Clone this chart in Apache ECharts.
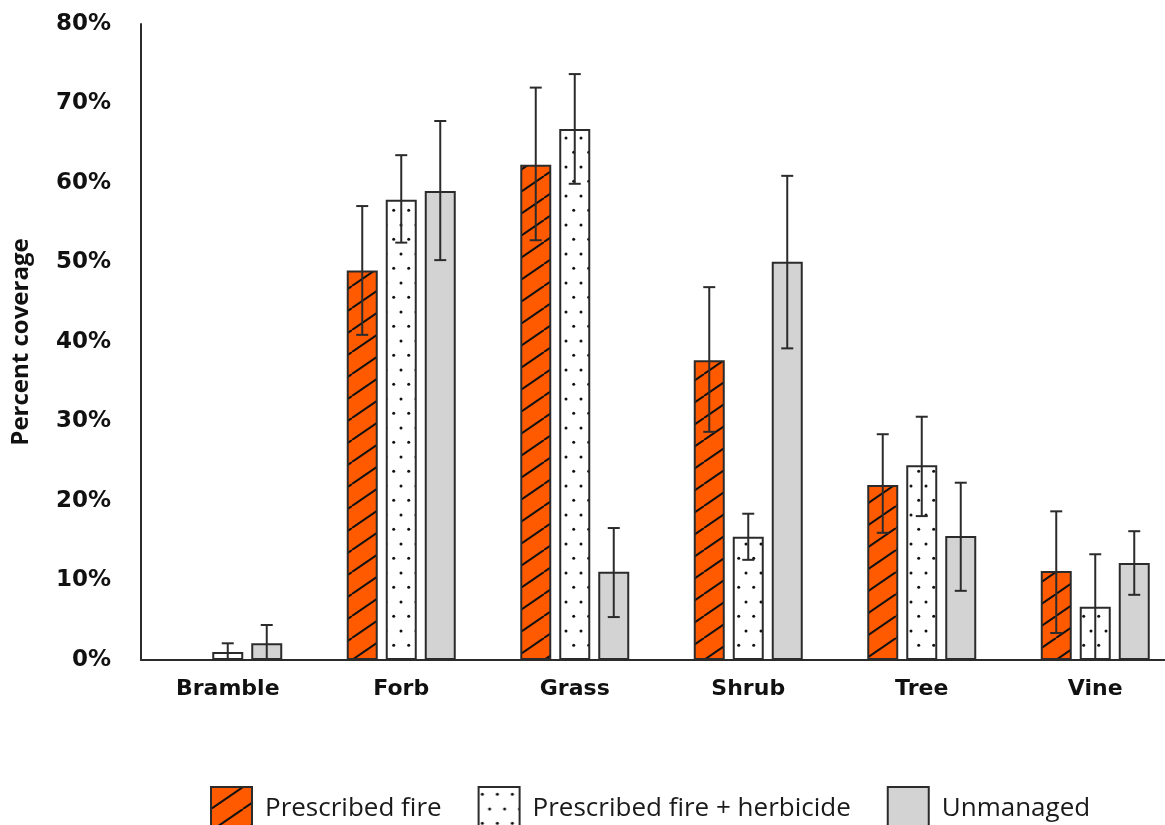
<!DOCTYPE html>
<html>
<head>
<meta charset="utf-8">
<script src="https://cdn.jsdelivr.net/npm/echarts@6/dist/echarts.min.js"></script>
<style>
html,body{margin:0;padding:0;background:#fff;}
#chart{width:1165px;height:825px;}
</style>
</head>
<body>
<div id="chart"></div>
<script>
// ---- data ----
const categories = ['Bramble', 'Forb', 'Grass', 'Shrub', 'Tree', 'Vine'];
const seriesNames = ['Prescribed fire', 'Prescribed fire + herbicide', 'Unmanaged'];
const fireValues = [null, 49.0, 62.3, 37.7, 22.0, 11.2];
const fireLow    = [null, 40.9, 52.8, 28.7, 16.0, 3.4];
const fireHigh   = [null, 57.1, 72.0, 46.9, 28.4, 18.7];
const herbValues = [1.0, 57.9, 66.8, 15.5, 24.5, 6.7];
const herbLow    = [0.0, 52.5, 59.9, 12.6, 18.1, 0.0];
const herbHigh   = [2.1, 63.5, 73.7, 18.4, 30.6, 13.3];
const unmValues  = [2.1, 59.0, 11.1, 50.1, 15.6, 12.2];
const unmLow     = [0.0, 50.3, 5.4, 39.2, 8.7, 8.2];
const unmHigh    = [4.4, 67.8, 16.6, 60.9, 22.3, 16.2];
const yTicks = [0, 10, 20, 30, 40, 50, 60, 70, 80];

// ---- patterns ----
function hatchPattern() {
  const W = 32, H = 22;
  const c = document.createElement('canvas');
  c.width = W; c.height = H;
  const ctx = c.getContext('2d');
  ctx.fillStyle = '#ff5a00';
  ctx.fillRect(0, 0, W, H);
  ctx.strokeStyle = '#111';
  ctx.lineWidth = 2;
  for (const dx of [-W, 0, W]) {
    ctx.beginPath();
    ctx.moveTo(dx, H);
    ctx.lineTo(dx + W, 0);
    ctx.stroke();
  }
  return c;
}
function dotPattern() {
  const c = document.createElement('canvas');
  c.width = 15; c.height = 29;
  const ctx = c.getContext('2d');
  ctx.fillStyle = '#ffffff';
  ctx.fillRect(0, 0, 15, 29);
  ctx.fillStyle = '#111';
  [[3.7, 7.3], [11.0, 21.9]].forEach(function (p) {
    ctx.beginPath();
    ctx.arc(p[0], p[1], 1.5, 0, Math.PI * 2);
    ctx.fill();
  });
  return c;
}

const fills = [
  { image: hatchPattern(), repeat: 'repeat' },
  { image: dotPattern(), repeat: 'repeat' },
  '#d3d3d4'
];
const barW = 31, barStep = 39;
const lineColor = '#2b2b2b';
const boldFont = 'DejaVu Sans';

const values = [fireValues, herbValues, unmValues];
const lows = [fireLow, herbLow, unmLow];
const highs = [fireHigh, herbHigh, unmHigh];

const series = [];
values.forEach(function (vals, i) {
  series.push({
    name: seriesNames[i],
    type: 'bar',
    data: vals,
    barWidth: barW,
    barGap: ((barStep - barW) / barW * 100).toFixed(1) + '%',
    itemStyle: { color: fills[i], borderColor: lineColor, borderWidth: 2 },
    emphasis: { disabled: true },
    z: 2
  });
});
values.forEach(function (vals, i) {
  const data = [];
  categories.forEach(function (c, k) {
    if (lows[i][k] != null && highs[i][k] != null) data.push([k, lows[i][k], highs[i][k]]);
  });
  const offset = (i - 1) * barStep;
  series.push({
    type: 'custom',
    name: seriesNames[i] + ' err',
    data: data,
    z: 5,
    silent: true,
    renderItem: function (params, api) {
      const k = api.value(0);
      const lo = api.coord([k, api.value(1)]);
      const hi = api.coord([k, api.value(2)]);
      const x = lo[0] + offset;
      const cap = 6;
      const st = { stroke: lineColor, lineWidth: 2 };
      return {
        type: 'group',
        children: [
          { type: 'line', shape: { x1: x, y1: lo[1], x2: x, y2: hi[1] }, style: st },
          { type: 'line', shape: { x1: x - cap, y1: hi[1], x2: x + cap, y2: hi[1] }, style: st },
          { type: 'line', shape: { x1: x - cap, y1: lo[1], x2: x + cap, y2: lo[1] }, style: st }
        ]
      };
    },
    encode: { x: 0, y: [1, 2] }
  });
});

const chart = echarts.init(document.getElementById('chart'), null, { renderer: 'canvas' });
chart.setOption({
  animation: false,
  backgroundColor: '#ffffff',
  textStyle: { fontFamily: 'Open Sans' },
  grid: { left: 141, top: 24, width: 1041, height: 636, outerBoundsMode: 'none', containLabel: false },
  legend: {
    data: seriesNames,
    left: 205,
    top: 781,
    itemWidth: 41,
    itemHeight: 44,
    itemGap: 36,
    icon: 'rect',
    textStyle: { fontFamily: 'Open Sans', fontSize: 26, color: '#1a1a1a', padding: [0, 0, 0, 8] },
    selectedMode: false
  },
  xAxis: {
    type: 'category',
    data: categories,
    axisLine: { lineStyle: { color: lineColor, width: 2 } },
    axisTick: { show: false },
    axisLabel: { fontFamily: boldFont, fontWeight: 'bold', fontSize: 22, color: '#111', margin: 18 },
    splitLine: { show: false }
  },
  yAxis: {
    type: 'value',
    min: yTicks[0],
    max: yTicks[yTicks.length - 1],
    interval: yTicks[1] - yTicks[0],
    name: 'Percent coverage',
    nameLocation: 'middle',
    nameGap: 108,
    nameTextStyle: { fontFamily: 'Open Sans', fontWeight: 'bold', fontSize: 24, color: '#111' },
    axisLine: { show: true, lineStyle: { color: lineColor, width: 2 } },
    axisTick: { show: false },
    splitLine: { show: false },
    axisLabel: { fontFamily: boldFont, fontWeight: 'bold', fontSize: 23, color: '#111', margin: 30, formatter: '{value}%' }
  },
  series: series
});
</script>
</body>
</html>
